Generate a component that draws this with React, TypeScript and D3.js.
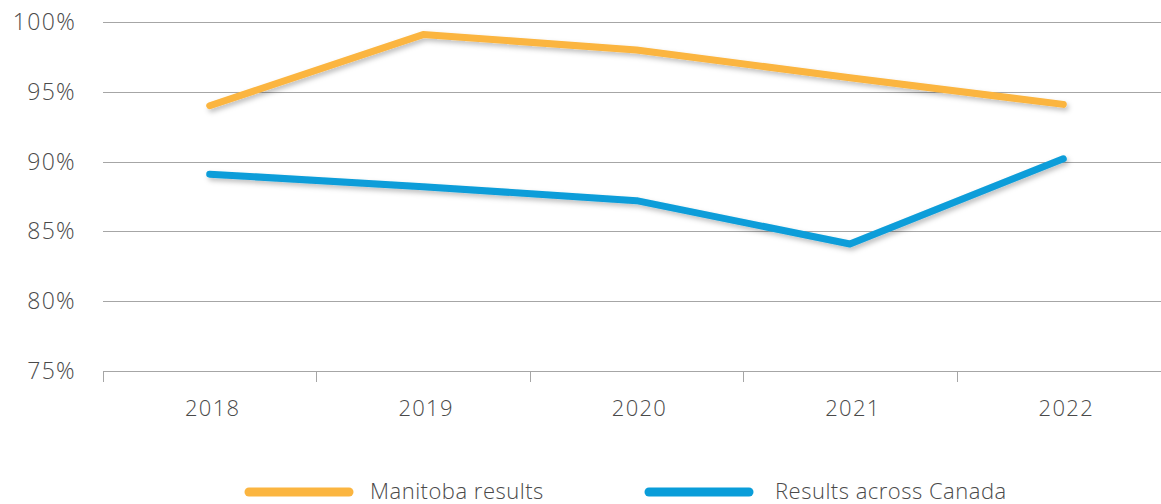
import { useEffect, useRef } from "react";
import * as d3 from "d3";

const years = ["2018", "2019", "2020", "2021", "2022"];
const manitoba = [94, 99.1, 98, 96, 94.1];
const canada = [89.1, 88.2, 87.2, 84.1, 90.2];
const yTicks = [75, 80, 85, 90, 95, 100];
const seriesNames = ["Manitoba results", "Results across Canada"];
const seriesColors = ["#FBB540", "#0A9DD9"];

const width = 1161;
const height = 504;

export default function App() {
  const svgRef = useRef<SVGSVGElement | null>(null);

  useEffect(() => {
    const svg = d3.select(svgRef.current);
    svg.selectAll("*").remove();

    const font = "'Open Sans', 'DejaVu Sans', sans-serif";
    const textColor = "#4a4a4a";

    const x = d3.scaleBand<string>().domain(years).range([103, 1170]);
    const y = d3.scaleLinear().domain([75, 100]).range([371, 22]);

    // soft shadow under the lines
    const defs = svg.append("defs");
    defs
      .append("filter")
      .attr("id", "shadow")
      .attr("x", "-10%")
      .attr("y", "-50%")
      .attr("width", "120%")
      .attr("height", "200%")
      .append("feDropShadow")
      .attr("dx", 2)
      .attr("dy", 3)
      .attr("stdDeviation", 2.5)
      .attr("flood-color", "#000")
      .attr("flood-opacity", 0.25);

    // gridlines
    svg
      .append("g")
      .selectAll("line")
      .data(yTicks)
      .join("line")
      .attr("x1", 103)
      .attr("x2", width)
      .attr("y1", (d) => Math.round(y(d)) + 0.5)
      .attr("y2", (d) => Math.round(y(d)) + 0.5)
      .attr("stroke", "#a6a6a6")
      .attr("stroke-width", 1);

    // y labels
    svg
      .append("g")
      .selectAll("text")
      .data(yTicks)
      .join("text")
      .attr("x", 76)
      .attr("y", (d) => y(d))
      .attr("dy", "0.35em")
      .attr("text-anchor", "end")
      .attr("font-family", font)
      .attr("font-size", 23)
      .attr("font-weight", 300)
      .attr("letter-spacing", 1.3)
      .attr("fill", textColor)
      .text((d) => `${d}%`);

    // x ticks at band edges
    const edges = years.map((d) => x(d) as number);
    svg
      .append("g")
      .selectAll("line")
      .data(edges)
      .join("line")
      .attr("x1", (d) => Math.round(d) + 0.5)
      .attr("x2", (d) => Math.round(d) + 0.5)
      .attr("y1", 371)
      .attr("y2", 382)
      .attr("stroke", "#a6a6a6")
      .attr("stroke-width", 1);

    // x labels
    svg
      .append("g")
      .selectAll("text")
      .data(years)
      .join("text")
      .attr("x", (d) => (x(d) as number) + x.bandwidth() / 2 + 3)
      .attr("y", 416)
      .attr("text-anchor", "middle")
      .attr("font-family", font)
      .attr("font-size", 22)
      .attr("font-weight", 300)
      .attr("letter-spacing", 1.3)
      .attr("fill", textColor)
      .text((d) => d);

    const line = d3
      .line<number>()
      .x((_, i) => (x(years[i]) as number) + x.bandwidth() / 2)
      .y((d) => y(d));

    [manitoba, canada].forEach((values, i) => {
      svg
        .append("path")
        .datum(values)
        .attr("fill", "none")
        .attr("stroke", seriesColors[i])
        .attr("stroke-width", 7)
        .attr("stroke-linecap", "round")
        .attr("stroke-linejoin", "round")
        .attr("filter", "url(#shadow)")
        .attr("d", line);
    });

    // legend
    const legendX = [249, 649];
    seriesNames.forEach((name, i) => {
      const g = svg.append("g").attr("transform", `translate(${legendX[i]},492)`);
      g.append("line")
        .attr("x1", 0)
        .attr("x2", 100)
        .attr("stroke", seriesColors[i])
        .attr("stroke-width", 9)
        .attr("stroke-linecap", "round");
      g.append("text")
        .attr("x", i === 0 ? 121 : 126)
        .attr("y", 0)
        .attr("dy", "0.32em")
        .attr("font-family", font)
        .attr("font-size", 22)
        .attr("font-weight", 300)
        .attr("letter-spacing", 0.5)
        .attr("fill", textColor)
        .text(name);
    });
  }, []);

  return (
    <svg
      ref={svgRef}
      width={width}
      height={height}
      style={{ position: "absolute", left: 0, top: 0, display: "block", overflow: "hidden" }}
    ></svg>
  );
}
